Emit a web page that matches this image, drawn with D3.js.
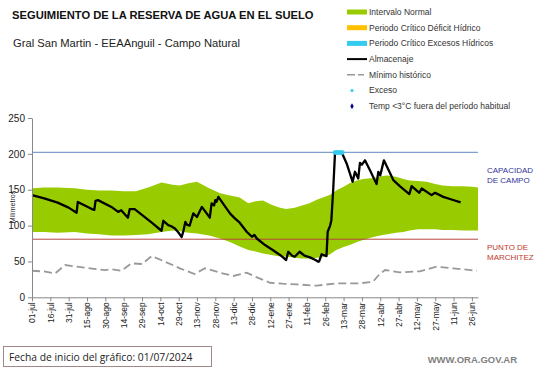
<!DOCTYPE html>
<html lang="es">
<head>
<meta charset="UTF-8">
<script src="https://d3js.org/d3.v7.min.js"></script>
<style>
  body { margin: 0; background: #fff; }
  svg { display: block; font-family: 'Liberation Sans', Arial, sans-serif; }
</style>
</head>
<body>
<svg id="chart" width="541" height="368"></svg>
<script>
// Tick labels on the x axis, one every 15 days from 01/07/2024
const tickLabels = ["01-jul", "16-jul", "31-jul", "15-ago", "30-ago", "14-sep", "29-sep", "14-oct",
  "29-oct", "13-nov", "28-nov", "13-dic", "28-dic", "12-ene", "27-ene", "11-feb", "26-feb",
  "13-mar", "28-mar", "12-abr", "27-abr", "12-may", "27-may", "11-jun", "26-jun"];
const yTicks = [0, 50, 100, 150, 200, 250];

// Reference levels (mm)
const capacidadCampo = 202;
const puntoMarchitez = 81;

// Intervalo normal (days since start, upper and lower limit)
const bandDays  = [0, 10, 21, 35, 45, 55, 65, 75, 85, 95, 106, 115, 121, 128, 135, 145, 154, 162, 170, 177, 183, 189, 196, 203, 208, 215, 221, 227, 233, 238, 244, 249, 255, 260, 266, 271, 277, 282, 287, 291, 298, 304, 309, 316, 323, 330, 336, 344, 353, 360, 365];
const bandUpper = [152, 153, 153, 152, 150, 149, 149, 148, 148, 153, 160, 157, 156, 159, 161, 152, 145, 142, 139, 131, 134, 135, 129, 125, 123, 125, 128, 131, 136, 139, 143, 149, 154, 159, 163, 165, 166, 167, 169, 170, 168, 165, 163, 162, 161, 158, 156, 155, 155, 154, 153];
const bandLower = [91, 91, 90, 91, 89, 88, 86, 86, 87, 88, 91, 93, 92, 90, 89, 86, 82, 77, 71, 66, 64, 61, 59, 57, 57, 55, 54, 54, 55, 56, 60, 66, 70, 73, 77, 80, 83, 85, 87, 88, 90, 91, 93, 95, 95, 95, 94, 94, 93, 93, 93];

// Almacenaje
const almDays   = [0, 10, 21, 30, 36.5, 37.5, 49, 51, 52, 54, 65, 70.5, 73, 78.5, 80, 84, 98, 106, 107.5, 111.5, 114, 117, 120, 122.5, 124, 125.5, 127, 129, 132, 135, 139, 145.5, 147, 149, 150, 151, 152.5, 162, 166, 170, 175.7, 180, 182, 184, 190.7, 197, 203, 208, 209.7, 213, 215, 219, 223, 227.5, 232, 234.3, 235, 237, 241, 242, 244, 245, 246.5, 248, 253.5, 257.5, 262.4, 264.3, 267, 268.4, 270, 272.5, 276.6, 282, 283.4, 285, 288, 295.7, 301, 308.8, 310.7, 317, 319, 327, 329.8, 336.6, 344, 350.8];
const almValues = [142.5, 138, 132, 125, 118, 133, 123, 122, 134.5, 135.5, 126, 119, 121.5, 111, 123, 123, 104, 92.8, 106.7, 100.7, 99, 96, 90, 84, 93, 105, 101, 100, 117, 112, 126, 111, 131, 128, 135.5, 133, 140, 117, 110, 104, 91.4, 84.4, 87, 82, 72.8, 66, 59, 52, 63.5, 58, 56.5, 63.5, 58, 55.7, 52, 49.6, 50, 60, 57.5, 91.4, 100, 107.6, 150, 202, 202, 186.6, 161, 175, 165.7, 187.5, 185, 191, 177, 157.8, 175, 170, 191, 163.4, 155, 143.9, 155, 145.7, 151.8, 142.5, 145.7, 140, 136, 132.3];

// Mínimo histórico
const minDays   = [0, 10, 19, 27, 35, 49, 60, 65, 73, 81.5, 90, 98, 117, 121, 133, 141.6, 154, 164.7, 175.7, 185, 194.8, 205, 216.6, 233, 249, 263, 268, 279, 285, 289, 301, 317.5, 331, 344.8, 364];
const minValues = [37, 36, 33.4, 45, 43, 40, 38, 39, 37, 47.3, 46.4, 57.5, 43.6, 40.4, 32.5, 40.4, 34.3, 29.7, 34.3, 27, 20.3, 19, 18, 16.2, 19.5, 19.5, 19.5, 21.7, 33.4, 38, 34.8, 36.2, 42.6, 40.4, 37];

// Exceso (days at field capacity)
const excesoDays = [248, 249, 250, 251, 252, 253, 254];

const legendItems = [
  { label: "Intervalo Normal", type: "bar", color: "#99cc00" },
  { label: "Periodo Crítico Déficit Hídrico", type: "bar", color: "#ffc000" },
  { label: "Periodo Crítico Excesos Hídricos", type: "bar", color: "#33ccee" },
  { label: "Almacenaje", type: "line", color: "#000" },
  { label: "Mínimo histórico", type: "dash", color: "#999" },
  { label: "Exceso", type: "dot", color: "#33ccee" },
  { label: "Temp <3°C fuera del período habitual", type: "diamond", color: "#000099" }
];

const svg = d3.select('#chart');

const x = d3.scaleLinear().domain([0, 365]).range([32, 478]);
const y = d3.scaleLinear().domain([0, 250]).range([297.3, 118]);

// Titles
svg.append('text').attr('x', 12).attr('y', 18.5)
  .style('font-size', '11.2px').style('font-weight', 'bold').attr('fill', '#111')
  .text('SEGUIMIENTO DE LA RESERVA DE AGUA  EN EL SUELO');
svg.append('text').attr('x', 13).attr('y', 47)
  .style('font-size', '11.2px').attr('fill', '#222')
  .text('Gral San Martin - EEAAnguil - Campo Natural');

// Normal band
const band = bandDays.map((d, i) => ({ d, hi: bandUpper[i], lo: bandLower[i] }));
svg.append('path').datum(band)
  .attr('fill', '#99cc00')
  .attr('d', d3.area().x(p => x(p.d)).y0(p => y(p.lo)).y1(p => y(p.hi)));

// Reference lines
svg.append('line').attr('x1', x(0)).attr('x2', x(365))
  .attr('y1', y(capacidadCampo)).attr('y2', y(capacidadCampo))
  .attr('stroke', '#7f9fcc').attr('stroke-width', 1.2);
svg.append('line').attr('x1', x(0)).attr('x2', x(365))
  .attr('y1', y(puntoMarchitez)).attr('y2', y(puntoMarchitez))
  .attr('stroke', '#b8463f').attr('stroke-width', 1);

// Mínimo histórico
const minPts = minDays.map((d, i) => [d, minValues[i]]);
svg.append('path').datum(minPts)
  .attr('fill', 'none').attr('stroke', '#999').attr('stroke-width', 1.8)
  .attr('stroke-dasharray', '8,4')
  .attr('d', d3.line().x(p => x(p[0])).y(p => y(p[1])));

// Almacenaje
const almPts = almDays.map((d, i) => [d, almValues[i]]);
svg.append('path').datum(almPts)
  .attr('fill', 'none').attr('stroke', '#000').attr('stroke-width', 2.3)
  .attr('stroke-linejoin', 'round')
  .attr('d', d3.line().x(p => x(p[0])).y(p => y(p[1])));

// Exceso markers
svg.selectAll('circle.exceso').data(excesoDays).join('circle')
  .attr('class', 'exceso')
  .attr('cx', d => x(d)).attr('cy', y(capacidadCampo)).attr('r', 2.3)
  .attr('fill', '#33ccee');

// Axes
const xAxis = svg.append('g').attr('transform', `translate(0,${y(0)})`)
  .call(d3.axisBottom(x).tickValues(d3.range(0, 361, 15))
    .tickFormat((d, i) => tickLabels[i]).tickSize(4).tickSizeOuter(0));
xAxis.selectAll('text')
  .attr('transform', 'rotate(-90)')
  .attr('text-anchor', 'end')
  .attr('x', -5).attr('y', 0).attr('dy', '0.35em')
  .style('font-size', '8.5px').attr('fill', '#222');

const yAxis = svg.append('g').attr('transform', `translate(${x(0)},0)`)
  .call(d3.axisLeft(y).tickValues(yTicks).tickSize(4).tickSizeOuter(0));
yAxis.selectAll('text').style('font-size', '10px').attr('fill', '#222');

[xAxis, yAxis].forEach(a => {
  a.select('.domain').attr('stroke', '#888');
  a.selectAll('.tick line').attr('stroke', '#888');
  a.style('font-family', "'Liberation Sans', Arial, sans-serif");
});

svg.append('text')
  .attr('transform', 'translate(15,207) rotate(-90)')
  .attr('text-anchor', 'middle')
  .style('font-size', '7px').attr('fill', '#222')
  .text('Milímetros');

// Right hand labels
const rightLabel = (lines, y0, color) => {
  lines.forEach((t, i) => {
    svg.append('text').attr('x', 487).attr('y', y0 + i * 9.5)
      .style('font-size', '8px').attr('fill', color).text(t);
  });
};
rightLabel(['CAPACIDAD', 'DE  CAMPO'], 173, '#333399');
rightLabel(['PUNTO   DE', 'MARCHITEZ'], 250, '#c0392b');

// Legend
const lg = svg.append('g');
legendItems.forEach((item, i) => {
  const cy = 12 + i * 15.7;
  const g = lg.append('g');
  if (item.type === 'bar') {
    g.append('rect').attr('x', 347).attr('y', cy - 2.5).attr('width', 20).attr('height', 5).attr('fill', item.color);
  } else if (item.type === 'line') {
    g.append('line').attr('x1', 347).attr('x2', 367).attr('y1', cy).attr('y2', cy)
      .attr('stroke', item.color).attr('stroke-width', 2);
  } else if (item.type === 'dash') {
    g.append('line').attr('x1', 347).attr('x2', 364).attr('y1', cy).attr('y2', cy)
      .attr('stroke', item.color).attr('stroke-width', 1.5).attr('stroke-dasharray', '8,3');
  } else if (item.type === 'dot') {
    g.append('circle').attr('cx', 352).attr('cy', cy).attr('r', 1.6).attr('fill', item.color);
  } else {
    g.append('path').attr('transform', `translate(352,${cy})`)
      .attr('d', d3.symbol(d3.symbolDiamond, 10)).attr('fill', item.color);
  }
  g.append('text').attr('x', 369).attr('y', cy).attr('dy', '0.35em')
    .style('font-size', '8.5px').attr('fill', '#333').text(item.label);
});

// Bottom notes
svg.append('rect').attr('x', 3.5).attr('y', 346.5).attr('width', 208).attr('height', 20)
  .attr('fill', '#fff').attr('stroke', '#a08888').attr('stroke-width', 1);
svg.append('text').attr('x', 9).attr('y', 360.5)
  .style('font-size', '10.3px').style('font-family', "'Open Sans', 'Liberation Sans', sans-serif")
  .attr('fill', '#222').text('Fecha de inicio del gráfico:  01/07/2024');
svg.append('text').attr('x', 517).attr('y', 363).attr('text-anchor', 'end')
  .style('font-size', '9.5px').style('font-weight', 'bold').attr('fill', '#7f7f7f')
  .text('WWW.ORA.GOV.AR');
</script>
</body>
</html>
